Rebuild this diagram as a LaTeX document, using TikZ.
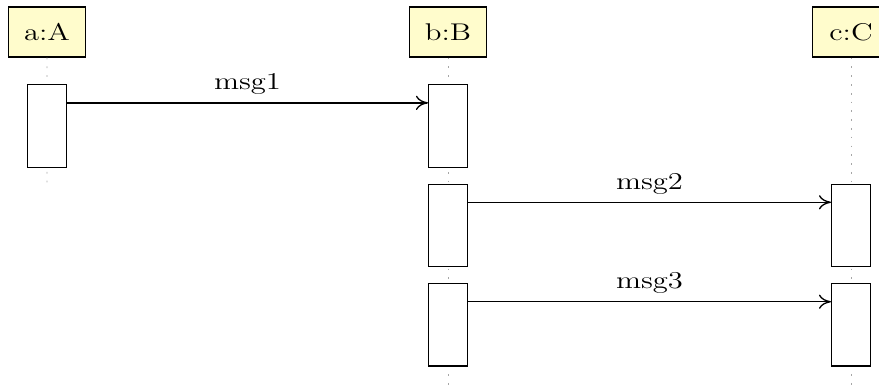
\documentclass[tikz,border=0pt]{standalone}
\usepackage{tikz}
\usetikzlibrary{positioning}
\usetikzlibrary{arrows.meta}

\begin{document}
\begin{tikzpicture}[semithick,
  obj/.style={draw, fill=yellow!20, xscale=1.27, font=\fontsize{11}{13}\selectfont, minimum width=27.5pt, minimum height=0.8cm, inner sep=2pt},
  act/.style={draw, fill=white, minimum width=0.62cm, minimum height=1.32cm, inner sep=0pt},
  lifeline/.style={gray!70, thin, dash pattern=on 0.8pt off 3.2pt},
  msg/.style={-{To[length=5.5pt,width=6.5pt]}},
  msglabel/.style={above, xscale=1.27, font=\fontsize{11}{13}\selectfont}
]

\useasboundingbox (0,0) rectangle (14.064,6.224);
\clip (0,0) rectangle (14.064,6.224);

% objects
\node[obj] (a) at (0.752,5.712) {a:A};
\node[obj] (b) at (7.168,5.712) {b:B};
\node[obj] (c) at (13.616,5.712) {c:C};

% lifelines
\coordinate (aend) at (0.752,3.232);
\coordinate (bend) at (7.168,0);
\coordinate (cend) at (13.616,0);

\draw[lifeline] (a) -- (aend);
\draw[lifeline] (b) -- (bend);
\draw[lifeline] (c) -- (cend);

% activations
\node[act] (b1) at (7.168,4.208) {};
\node[act] (a1) at (a |- b1) {};
\node[act, below=0.25cm of b1] (b2) {};
\node[act, below=0.25cm of b2] (b3) {};
\node[act] (c2) at (c |- b2) {};
\node[act] (c3) at (c |- b3) {};

% messages
\draw[msg] ([yshift=-0.3cm]a1.north east) -- node[msglabel]{msg1} ([yshift=-0.3cm]b1.north west);

\draw[msg] ([yshift=-0.3cm]b2.north east) -- node[msglabel]{msg2} ([yshift=-0.3cm]c2.north west);

\draw[msg] ([yshift=-0.3cm]b3.north east) -- node[msglabel]{msg3} ([yshift=-0.3cm]c3.north west);

\end{tikzpicture}
\end{document}
